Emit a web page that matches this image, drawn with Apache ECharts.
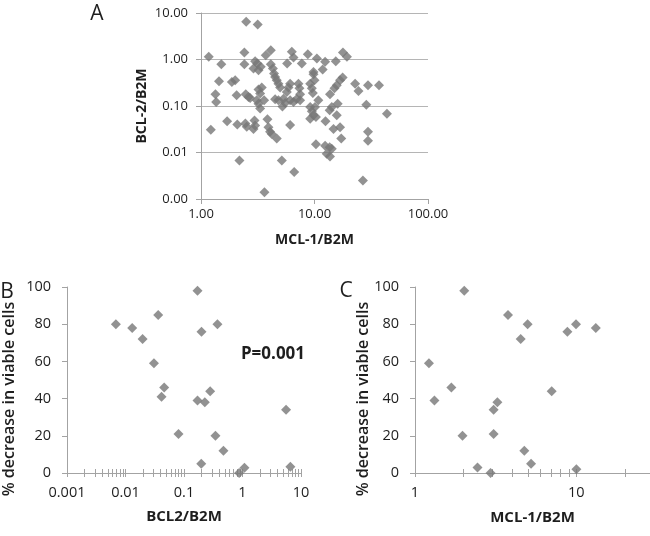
<!DOCTYPE html>
<html>
<head>
<meta charset="utf-8">
<script src="https://cdn.jsdelivr.net/npm/echarts@6/dist/echarts.min.js"></script>
<style>
html,body{margin:0;padding:0;background:#fff;}
#chart{width:650px;height:536px;}
</style>
</head>
<body>
<div id="chart"></div>
<script>
// ---- Panel A: MCL-1/B2M vs BCL-2/B2M ----
const mclA = [2.50,3.16,1.17,1.51,2.41,2.41,3.00,3.14,2.90,3.21,3.36,3.72,4.12,4.12,5.74,6.31,6.53,7.73,8.73,10.5,12.4,11.8,15.4,17.8,19.3,9.80,
  1.44,1.87,2.00,1.34,2.06,1.36,2.48,2.62,2.71,3.21,3.43,3.32,3.10,4.50,4.65,4.81,4.98,5.70,5.90,6.10,7.22,7.37,7.47,9.80,10.0,9.16,9.47,9.67,13.7,15.0,15.7,16.8,17.7,22.8,24.4,29.6,37.0,
  3.21,3.32,3.60,4.50,4.81,5.22,5.33,5.51,6.10,6.53,6.98,7.47,9.16,9.47,10.1,10.8,13.6,14.2,16.0,28.6,
  1.22,1.70,2.09,2.46,2.53,2.90,3.00,2.96,3.85,3.93,4.06,4.20,4.65,6.10,9.16,9.80,10.3,12.5,14.7,15.7,16.8,17.2,29.6,29.6,43.5,
  2.18,5.15,6.62,10.3,12.4,12.8,13.6,14.2,13.7,26.7,3.62,4.3,4.4];
const bclA = [6.50,5.69,1.14,0.79,1.42,0.79,0.92,0.82,0.64,0.59,0.70,1.24,1.59,0.79,0.82,1.46,1.10,0.82,1.30,1.05,0.89,0.61,0.92,1.42,1.14,0.54,
  0.34,0.33,0.36,0.18,0.17,0.122,0.18,0.156,0.149,0.226,0.25,0.185,0.133,0.42,0.36,0.30,0.25,0.20,0.25,0.30,0.30,0.24,0.18,0.48,0.36,0.30,0.24,0.19,0.18,0.24,0.28,0.36,0.41,0.30,0.21,0.28,0.28,
  0.112,0.088,0.133,0.139,0.133,0.098,0.144,0.116,0.133,0.122,0.142,0.133,0.095,0.077,0.095,0.133,0.081,0.095,0.112,0.107,
  0.031,0.047,0.040,0.042,0.036,0.032,0.038,0.049,0.052,0.035,0.028,0.025,0.020,0.039,0.053,0.063,0.058,0.047,0.032,0.063,0.035,0.020,0.028,0.018,0.068,
  0.0067,0.0067,0.0038,0.015,0.014,0.0094,0.013,0.012,0.0082,0.0025,0.0014,0.64,0.50];

// ---- Panel B: BCL2/B2M vs % decrease ----
const bclB = [0.00685,0.0130,0.0196,0.0362,0.0306,0.0458,0.0413,0.0805,0.170,0.199,0.197,0.227,0.280,0.373,0.345,0.472,0.875,1.08,5.55,6.58,0.170];
const decreaseB = [80,78,72,85,59,46,41,21,39,76,5,38,44,80,20,12,0,2.8,34,3.4,98];

// ---- Panel C: MCL-1/B2M vs % decrease ----
const mclC = [1.22,1.32,1.68,1.97,2.44,2.94,3.07,3.24,3.07,3.77,4.52,4.99,4.76,5.24,7.03,8.80,9.95,10.0,13.2,2.02];
const decreaseC = [59,39,46,20,3,0,34,38,21,85,72,80,12,5,44,76,80,2,78,98];

// ---- tick labels ----
const aXLabels = [1, 10, 100];
const aYLabels = [0.001, 0.01, 0.1, 1, 10];
const bXLabels = [0.001, 0.01, 0.1, 1, 10];
const cXLabels = [1, 10];
const minorMult = [1,2,3,4,5,6,7,8,9];

function logTicks(lo, hi) {
  const out = [];
  for (let e = Math.round(Math.log10(lo)); Math.pow(10, e) <= hi * 1.0001; e++) {
    minorMult.forEach(m => {
      const v = +(m * Math.pow(10, e)).toPrecision(6);
      if (v >= lo * 0.9999 && v <= hi * 1.0001) out.push(v);
    });
  }
  return out;
}

const FONT = '"Open Sans", "Noto Sans", sans-serif';
const AXIS = '#a3a3a3';
const GRID = '#b5b5b5';
const TXT = '#1e1e1e';
const MARK = '#777777';

const cMax = 28.6;

const chart = echarts.init(document.getElementById('chart'), null, {renderer: 'canvas'});
const lineStyle = {color: AXIS, width: 1};

const option = {
  animation: false,
  textStyle: {fontFamily: FONT},
  grid: [
    {left: 201, top: 13, width: 227, height: 186},
    {left: 67, top: 287, width: 234, height: 186},
    {left: 415, top: 287, width: 235, height: 186}
  ],
  xAxis: [
    { // A
      gridIndex: 0, type: 'log', logBase: 10, min: 1, max: 100,
      axisLine: {show: true, lineStyle},
      axisTick: {show: true, length: 5, lineStyle, customValues: aXLabels},
      axisLabel: {customValues: aXLabels, formatter: v => (+v).toFixed(2), margin: 9, fontSize: 13, color: TXT, fontFamily: FONT},
      splitLine: {show: false},
      name: 'MCL-1/B2M', nameLocation: 'middle', nameGap: 34,
      nameTextStyle: {fontWeight: 'bold', fontSize: 14, color: TXT, fontFamily: FONT}
    },
    { // B main
      gridIndex: 1, type: 'log', logBase: 10, min: 0.001, max: 10,
      axisLine: {show: true, lineStyle},
      axisTick: {show: true, length: 4, lineStyle, customValues: logTicks(0.001, 10)},
      axisLabel: {customValues: bXLabels, formatter: v => String(+v), margin: 12, fontSize: 14.5, color: TXT, fontFamily: FONT},
      splitLine: {show: false},
      name: 'BCL2/B2M', nameLocation: 'middle', nameGap: 36,
      nameTextStyle: {fontWeight: 'bold', fontSize: 15, color: TXT, fontFamily: FONT}
    },
    { // B crossing ticks
      gridIndex: 1, type: 'log', logBase: 10, min: 0.001, max: 10, position: 'bottom',
      axisLine: {show: false},
      axisTick: {show: true, inside: true, length: 4, lineStyle, customValues: logTicks(0.001, 10)},
      axisLabel: {show: false}, splitLine: {show: false}
    },
    { // C main
      gridIndex: 2, type: 'log', logBase: 10, min: 1, max: cMax,
      axisLine: {show: true, lineStyle},
      axisTick: {show: true, length: 4, lineStyle, customValues: logTicks(1, cMax)},
      axisLabel: {customValues: cXLabels, formatter: v => String(+v), margin: 12, fontSize: 14.5, color: TXT, fontFamily: FONT},
      splitLine: {show: false},
      name: 'MCL-1/B2M', nameLocation: 'middle', nameGap: 37,
      nameTextStyle: {fontWeight: 'bold', fontSize: 15, color: TXT, fontFamily: FONT}
    },
    { // C crossing ticks
      gridIndex: 2, type: 'log', logBase: 10, min: 1, max: cMax, position: 'bottom',
      axisLine: {show: false},
      axisTick: {show: true, inside: true, length: 4, lineStyle, customValues: logTicks(1, cMax)},
      axisLabel: {show: false}, splitLine: {show: false}
    }
  ],
  yAxis: [
    { // A
      gridIndex: 0, type: 'log', logBase: 10, min: 0.001, max: 10,
      axisLine: {show: true, lineStyle},
      axisTick: {show: true, length: 5, lineStyle, customValues: aYLabels},
      axisLabel: {customValues: aYLabels, formatter: v => (+v).toFixed(2), margin: 13, fontSize: 13, color: TXT, fontFamily: FONT},
      splitLine: {show: true, lineStyle: {color: GRID, width: 1}},
      name: 'BCL-2/B2M', nameLocation: 'middle', nameGap: 52,
      nameTextStyle: {fontWeight: 'bold', fontSize: 14, color: TXT, fontFamily: FONT}
    },
    { // B
      gridIndex: 1, type: 'value', min: 0, max: 100, interval: 20,
      axisLine: {show: true, lineStyle},
      axisTick: {show: true, length: 5, lineStyle},
      axisLabel: {margin: 16, fontSize: 14.5, color: TXT, fontFamily: FONT},
      splitLine: {show: false}
    },
    { // C
      gridIndex: 2, type: 'value', min: 0, max: 100, interval: 20,
      axisLine: {show: true, lineStyle},
      axisTick: {show: true, length: 5, lineStyle},
      axisLabel: {margin: 16, fontSize: 14.5, color: TXT, fontFamily: FONT},
      splitLine: {show: false}
    }
  ],
  series: [
    {type: 'scatter', xAxisIndex: 0, yAxisIndex: 0, symbol: 'diamond', symbolSize: 10,
     itemStyle: {color: MARK}, data: mclA.map((x, i) => [x, bclA[i]])},
    {type: 'scatter', xAxisIndex: 1, yAxisIndex: 1, symbol: 'diamond', symbolSize: 10,
     itemStyle: {color: MARK}, data: bclB.map((x, i) => [x, decreaseB[i]])},
    {type: 'scatter', xAxisIndex: 3, yAxisIndex: 2, symbol: 'diamond', symbolSize: 10,
     itemStyle: {color: MARK}, data: mclC.map((x, i) => [x, decreaseC[i]])}
  ],
  graphic: [
    {type: 'text', x: 97, y: 14, style: {text: 'A', font: '21px ' + FONT, fill: TXT, align: 'center', verticalAlign: 'middle'}},
    {type: 'text', x: 7, y: 292, style: {text: 'B', font: '21px ' + FONT, fill: TXT, align: 'center', verticalAlign: 'middle'}},
    {type: 'text', x: 346, y: 291, style: {text: 'C', font: '21px ' + FONT, fill: TXT, align: 'center', verticalAlign: 'middle'}},
    {type: 'text', x: 273, y: 354, style: {text: 'P=0.001', font: 'bold 17px ' + FONT, fill: TXT, align: 'center', verticalAlign: 'middle'}},
    {type: 'text', x: 9, y: 399, rotation: Math.PI / 2, style: {text: '% decrease in viable cells', font: '600 16px ' + FONT, fill: TXT, align: 'center', verticalAlign: 'middle'}},
    {type: 'text', x: 363, y: 399, rotation: Math.PI / 2, style: {text: '% decrease in viable cells', font: '600 16px ' + FONT, fill: TXT, align: 'center', verticalAlign: 'middle'}}
  ]
};
chart.setOption(option);
</script>
</body>
</html>
